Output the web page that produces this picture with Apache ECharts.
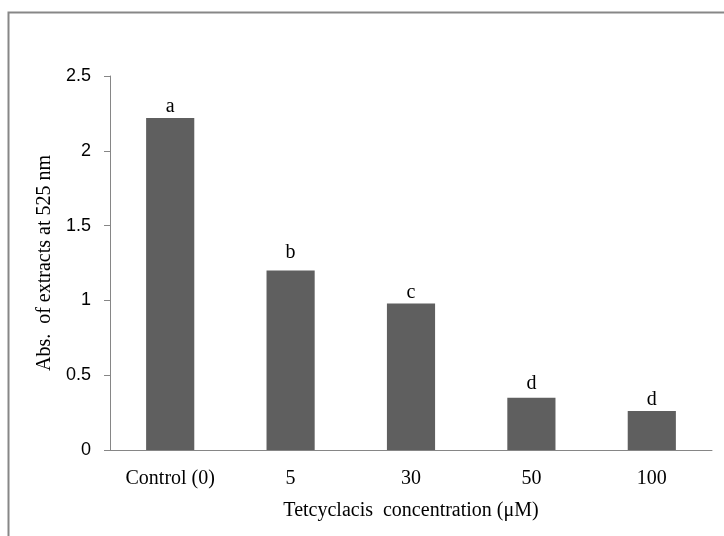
<!DOCTYPE html>
<html>
<head>
<meta charset="utf-8">
<style>
  html, body { margin: 0; padding: 0; background: #fff; }
  #chart { width: 724px; height: 536px; }
</style>
<script src="https://cdn.jsdelivr.net/npm/echarts@6/dist/echarts.min.js"></script>
</head>
<body>
<div id="chart"></div>
<script>
// Absorbance of extracts under increasing tetcyclacis concentrations
const categories = ['Control (0)', '5', '30', '50', '100'];
const absorbance = [2.22, 1.20, 0.98, 0.35, 0.26];
const groupLetters = ['a', 'b', 'c', 'd', 'd'];
const yTicks = { min: 0, max: 2.5, interval: 0.5 };

const serif = '"Liberation Serif", "Times New Roman", serif';
const sans = '"Liberation Sans", Arial, sans-serif';
const axisGray = '#868686';

// letters sit slightly higher above some bars
const letterLift = { 1: -7, 3: -3 };

const chart = echarts.init(document.getElementById('chart'));
chart.setOption({
  backgroundColor: '#ffffff',
  animation: false,
  graphic: [{
    type: 'rect',
    shape: { x: 8.5, y: 12.5, width: 740, height: 560 },
    style: { fill: 'none', stroke: '#878787', lineWidth: 2 },
    silent: true
  }],
  grid: { left: 110, right: 12, top: 76, bottom: 86 },
  xAxis: {
    type: 'category',
    data: categories,
    name: 'Tetcyclacis  concentration (μM)',
    nameLocation: 'middle',
    nameGap: 51,
    nameTextStyle: { fontFamily: serif, fontSize: 20, color: '#000' },
    axisLine: { lineStyle: { color: axisGray, width: 1 } },
    axisTick: { show: false },
    axisLabel: { fontFamily: serif, fontSize: 20, color: '#000', margin: 19 }
  },
  yAxis: {
    type: 'value',
    min: yTicks.min,
    max: yTicks.max,
    interval: yTicks.interval,
    name: 'Abs.  of extracts at 525 nm',
    nameLocation: 'middle',
    nameGap: 53,
    nameTextStyle: { fontFamily: serif, fontSize: 20, color: '#000' },
    axisLine: { show: true, lineStyle: { color: axisGray, width: 1 } },
    axisTick: { show: true, length: 6, lineStyle: { color: axisGray } },
    splitLine: { show: false },
    axisLabel: { fontFamily: sans, fontSize: 18, color: '#000', margin: 19 }
  },
  series: [{
    type: 'bar',
    data: absorbance.map((v, i) => ({
      value: v,
      label: { offset: [0, letterLift[i] || 0] }
    })),
    barCategoryGap: '60%',
    itemStyle: { color: '#5f5f5f' },
    label: {
      show: true,
      position: 'top',
      distance: 1,
      fontFamily: serif,
      fontSize: 20,
      color: '#000',
      formatter: p => groupLetters[p.dataIndex]
    }
  }]
});
</script>
</body>
</html>
